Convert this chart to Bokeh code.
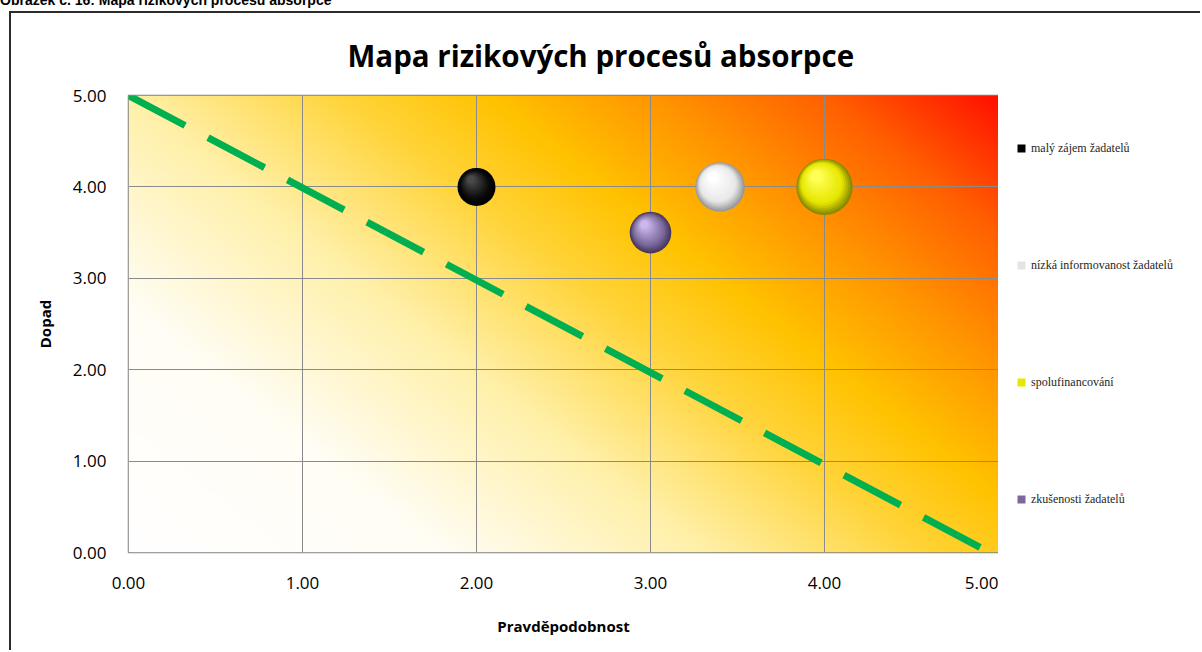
import numpy as np
from bokeh.plotting import figure
from bokeh.layouts import row, column
from bokeh.models import (FixedTicker, NumeralTickFormatter, Legend, LegendItem,
                          ColumnDataSource, Range1d, Div, Spacer)
from bokeh.embed import file_html
from bokeh.resources import INLINE

# ---------------- data ----------------
risks = ["malý zájem žadatelů", "nízká informovanost žadatelů",
         "spolufinancování", "zkušenosti žadatelů"]
probability = [2.0, 3.4, 4.0, 3.0]
impact = [4.0, 4.0, 4.0, 3.5]
bubble_size = [1.0, 1.7, 2.2, 1.2]
threshold_x = [0.0, 4.95]
threshold_y = [5.0, 0.0]
axis_ticks = [0, 1, 2, 3, 4, 5]
heading_text = "Obrázek č. 16: Mapa rizikových procesů absorpce"
title_text = "Mapa rizikových procesů absorpce"
x_label = "Pravděpodobnost"
y_label = "Dopad"

# ---------------- styles ----------------
sphere_colors = [  # edge, mid, highlight
    ("#000000", "#0b0b0b", "#4a4a4a"),
    ("#9a9a9a", "#e8e8e8", "#ffffff"),
    ("#8a8a00", "#e6e600", "#ffff55"),
    ("#46395e", "#7b699b", "#cbb8ec"),
]
legend_colors = ["#000000", "#e4e4e4", "#e6e600", "#7b699b"]
BORDER = "2px solid #2b2b2b"

W1, H = 989, 639
ML, MR, MT, MB = 117, 2, 82, 100
FW = W1 - ML - MR
FH = H - MT - MB
W2 = 202

p = figure(width=W1, height=H, x_range=Range1d(0, 5), y_range=Range1d(0, 5),
           output_backend="svg", toolbar_location=None,
           min_border_left=ML, min_border_right=MR, min_border_top=MT,
           min_border_bottom=MB, background_fill_color="white",
           border_fill_color="white", outline_line_color="#808080",
           outline_line_width=1.5, title=title_text)
p.styles = {"border-left": BORDER, "border-top": BORDER}
p.title.align = "left"
p.title.offset = 219
p.title.standoff = 39
p.title.text_font = "Open Sans"
p.title.text_font_style = "bold"
p.title.text_font_size = "29.5px"
p.title.text_color = "#000000"

# gradient background
nx, ny = 500, 300
U, V = np.meshgrid(np.linspace(0, 1, nx), np.linspace(0, 1, ny))
T = 0.6 * U + 0.4 * V
st = [0.0, 0.22, 0.40, 0.55, 0.65, 0.76, 0.88, 1.0]
cols = ["#ffffff", "#fffdf4", "#fff0a8", "#ffd438", "#ffc200", "#ff9600", "#ff6000", "#ff1000"]
rgb = np.array([[int(c[i:i + 2], 16) for i in (1, 3, 5)] for c in cols], dtype=float)
img = np.empty((ny, nx), dtype=np.uint32)
view = img.view(dtype=np.uint8).reshape((ny, nx, 4))
for ch in range(3):
    view[..., ch] = np.interp(T, st, rgb[:, ch]).astype(np.uint8)
view[..., 3] = 255
p.image_rgba(image=[img], x=0, y=0, dw=5, dh=5, level="image")

# grid & axes
for g in (p.xgrid, p.ygrid):
    g.ticker = FixedTicker(ticks=axis_ticks)
    g.grid_line_color = "#8a8a8a"
    g.grid_line_width = 1
for ax in (p.xaxis, p.yaxis):
    ax.ticker = FixedTicker(ticks=axis_ticks)
    ax.formatter = NumeralTickFormatter(format="0.00")
    ax.axis_line_color = None
    ax.major_tick_line_color = None
    ax.minor_tick_line_color = None
    ax.major_label_text_font = "Open Sans"
    ax.major_label_text_font_size = "17px"
    ax.major_label_text_color = "#000000"
    ax.axis_label_text_font = "Open Sans"
    ax.axis_label_text_font_style = "bold"
    ax.axis_label_text_font_size = "15px"
    ax.axis_label_text_color = "#000000"
p.xaxis.axis_label = x_label
p.yaxis.axis_label = y_label
p.xaxis.major_label_standoff = 18
p.yaxis.major_label_standoff = 16
p.xaxis.axis_label_standoff = 24
p.yaxis.axis_label_standoff = 15

# threshold line
p.line(threshold_x, threshold_y, line_color="#00b050", line_width=7,
       line_dash="64 26", line_cap="butt")

# 3D-looking bubbles
def hx(c):
    return np.array([int(c[i:i + 2], 16) for i in (1, 3, 5)], dtype=float)

def mix(a, b, t):
    c = hx(a) * (1 - t) + hx(b) * t
    return "#%02x%02x%02x" % tuple(int(round(v)) for v in c)

px_x = FW / 5.0
px_y = FH / 5.0
N = 16
xs, ys, ss, cs = [], [], [], []
for k in range(N):
    f = k / (N - 1)
    for i in range(len(risks)):
        D = 38 * np.sqrt(bubble_size[i])
        d = D * (1 - 0.82 * f)
        off = (D - d) / 2 * 0.6
        xs.append(probability[i] - off * 0.6 / px_x)
        ys.append(impact[i] + off * 0.8 / px_y)
        ss.append(d)
        e, m, h = sphere_colors[i]
        cs.append(mix(e, m, f / 0.3) if f < 0.3 else mix(m, h, (f - 0.3) / 0.7))
src = ColumnDataSource(dict(x=xs, y=ys, s=ss, c=cs))
p.scatter("x", "y", size="s", fill_color="c", line_color=None, source=src)

# legend panel (separate figure to the right of the plot)
lf = figure(width=W2, height=H, x_range=Range1d(0, 1), y_range=Range1d(0, 1),
            output_backend="svg", toolbar_location=None,
            min_border_left=0, min_border_right=0, min_border_top=MT,
            min_border_bottom=MB,
            outline_line_color=None, background_fill_color="white",
            border_fill_color="white")
lf.axis.visible = False
lf.grid.visible = False
lf.styles = {"border-top": BORDER}
items = []
for name, c in zip(risks, legend_colors):
    r = lf.scatter([-10], [-10], marker="square", size=8, fill_color=c,
                   line_color=None)
    items.append(LegendItem(label=name, renderers=[r]))
legend = Legend(items=items, location=(13, 43), orientation="vertical",
                spacing=97, padding=0, margin=0, glyph_width=20, glyph_height=20,
                label_standoff=-8, label_text_font="Liberation Serif",
                label_text_font_size="12px", label_text_color="#262626",
                border_line_color=None, background_fill_alpha=0)
lf.add_layout(legend, "center")

heading = Div(
    text=("<div style=\"position:relative;top:-8px;font-family:'Liberation Sans',Arial,sans-serif;"
          "font-weight:bold;font-size:14px;line-height:16px;white-space:nowrap;color:#000\">"
          + heading_text + "</div>"),
    width=1202, height=11, margin=0, styles={"overflow": "hidden"})

layout = column(heading, row(Spacer(width=9, height=H), p, lf))
open("out.html", "w").write(file_html(layout, INLINE))
